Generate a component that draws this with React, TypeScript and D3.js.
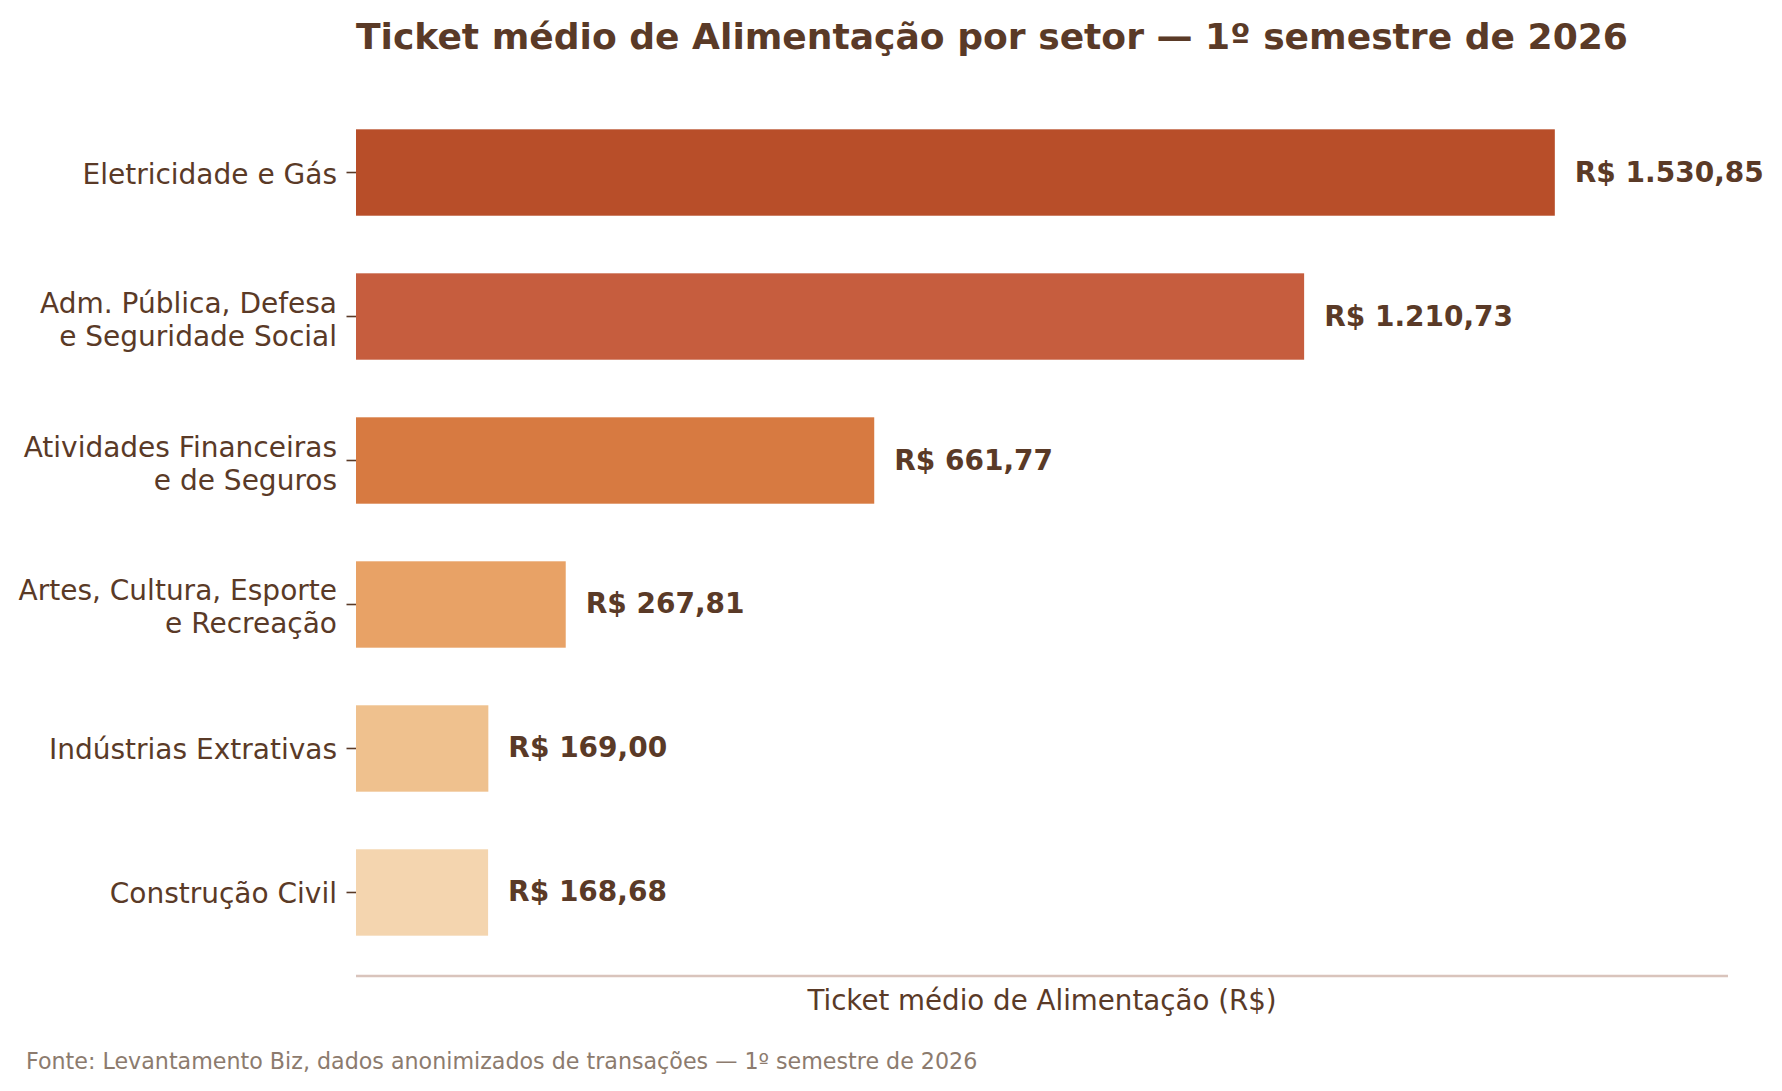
import React from 'react';
import * as d3 from 'd3';

const sectors = [
  ['Eletricidade e Gás'],
  ['Adm. Pública, Defesa', 'e Seguridade Social'],
  ['Atividades Financeiras', 'e de Seguros'],
  ['Artes, Cultura, Esporte', 'e Recreação'],
  ['Indústrias Extrativas'],
  ['Construção Civil'],
];
const tickets = [1530.85, 1210.73, 661.77, 267.81, 169.0, 168.68];
const barColors = ['#b84e29', '#c65d3e', '#d77a41', '#e8a266', '#efc18e', '#f4d5af'];
const xMax = 1752;

const title = 'Ticket médio de Alimentação por setor — 1º semestre de 2026';
const xLabel = 'Ticket médio de Alimentação (R$)';
const source = 'Fonte: Levantamento Biz, dados anonimizados de transações — 1º semestre de 2026';

const width = 1782;
const height = 1091;
const margin = { left: 356, right: 54, top: 89, bottom: 115 };
const textColor = '#5a3a27';
const font = '"DejaVu Sans", sans-serif';

const brl = (v: number) =>
  'R$ ' + v.toLocaleString('pt-BR', { minimumFractionDigits: 2, maximumFractionDigits: 2 });

const App: React.FC = () => {
  const x = d3.scaleLinear().domain([0, xMax]).range([margin.left, width - margin.right]);
  const idx = d3.range(tickets.length);
  // one unit per sector, bars 0.6 tall, small padding at both ends
  const y = d3.scaleLinear()
    .domain([-0.58, tickets.length - 1 + 0.58])
    .range([margin.top, height - margin.bottom]);
  const step = y(1) - y(0);
  const barH = step * 0.6;
  const axisY = height - margin.bottom;

  return (
    <div style={{ position: 'absolute', left: 0, top: 0 }}>
      <svg width={width} height={height} style={{ display: 'block', background: '#fff' }} fontFamily={font}>
        <text x={margin.left} y={49} fontSize={36.1} fontWeight="bold" fill={textColor}>{title}</text>

        {idx.map(i => (
          <rect key={i} x={x(0)} y={y(i) - barH / 2} width={x(tickets[i]) - x(0)} height={barH} fill={barColors[i]} />
        ))}

        {idx.map(i => (
          <g key={'t' + i}>
            <line x1={x(0) - 9.5} x2={x(0)} y1={y(i)} y2={y(i)} stroke={textColor} strokeWidth={1.6} />
            <text textAnchor="end" fontSize={28} fill={textColor}>
              {sectors[i].map((line, j) => (
                <tspan key={j} x={x(0) - 19} y={y(i) + 11 + (j - (sectors[i].length - 1) / 2) * 33 + (sectors[i].length > 1 ? 1.5 : 0)}>{line}</tspan>
              ))}
            </text>
          </g>
        ))}

        {idx.map(i => (
          <text key={'v' + i} x={x(tickets[i]) + 20} y={y(i) + 9} fontSize={28} fontWeight="bold" fill={textColor}>
            {brl(tickets[i])}
          </text>
        ))}

        <line x1={x(0)} x2={x(xMax)} y1={axisY} y2={axisY} stroke="#d9c4bc" strokeWidth={2.5} />
        <text x={(x(0) + x(xMax)) / 2} y={1010} textAnchor="middle" fontSize={27.7} fill={textColor}>{xLabel}</text>
        <text x={26} y={1069} fontSize={22.2} fill="#8c7b6e">{source}</text>
      </svg>
    </div>
  );
};

export default App;
